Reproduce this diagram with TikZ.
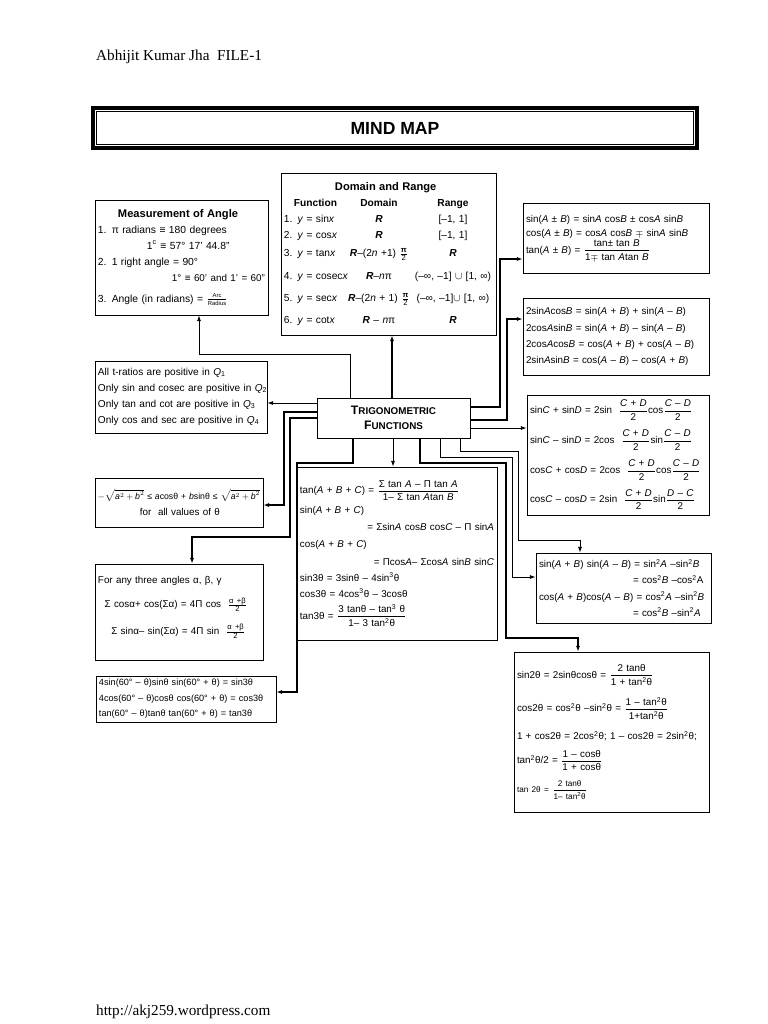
\documentclass[tikz,border=0pt]{standalone}
\usepackage{fontspec}
\setmainfont{Liberation Sans}
\newfontfamily\serifface{Liberation Serif}
\usetikzlibrary{arrows.meta}

\newcommand{\mv}[1]{\textit{#1}}
\newcommand{\fr}[2]{$\displaystyle\frac{\mbox{#1}}{\mbox{#2}}$}
\newcommand{\sfr}[2]{$\frac{\mbox{\fontsize{6.5}{7}\selectfont #1}}{\mbox{\fontsize{6.5}{7}\selectfont #2}}$}
\newcommand{\tfr}[2]{$\frac{\mbox{\fontsize{5}{6}\selectfont #1}}{\mbox{\fontsize{5}{6}\selectfont #2}}$}
\newcommand{\drow}[3]{\makebox[1.71cm][l]{#1}\makebox[2.28cm]{#2}\makebox[2.16cm]{#3}}
\newcommand{\bR}{\textbf{\textit{R}}}
\newcommand{\spr}[1]{\textsuperscript{#1}}

\begin{document}
\begin{tikzpicture}[x=0.03cm, y=-0.03cm]
	\tikzstyle{every node}=[font=\fontsize{8.4}{13.7}\selectfont]
	\tikzstyle{box}=[draw, line width=0.6pt, align=left, inner xsep=0.09cm, inner ysep=0.04cm]
	\tikzstyle{link}=[-{Latex[length=5pt,width=3.6pt]}, line width=0.8pt]
	\tikzstyle{heavy}=[link, line width=1.5pt]
	\fill [white] (0,0) rectangle (768,1024);
	\useasboundingbox (0,0) rectangle (768,1024);

	% header, footer and title
	\node [font=\serifface\fontsize{13}{15}\selectfont, anchor=west] (author) at (92,57) {Abhijit Kumar Jha\ \ FILE-1};
	\node [font=\serifface\fontsize{13}{15}\selectfont, anchor=west] (site) at (92,1012) {http://akj259.wordpress.com};
	\node [draw, line width=2.6pt, minimum width=18.12cm, minimum height=1.2cm, font=\fontsize{15}{18}\selectfont\bfseries] (title) at (395,128) {MIND MAP};
	\draw [line width=0.5pt] ([shift={(5,5)}]title.north west) rectangle ([shift={(-5,-5)}]title.south east);

	% centre
	\node [draw, line width=0.6pt, align=center, minimum width=4.59cm, minimum height=1.2cm, font=\fontsize{10.5}{13}\selectfont\bfseries] (trig) at (393.5,418) {T{\fontsize{8.4}{13}\selectfont RIGONOMETRIC}\\F{\fontsize{8.4}{13}\selectfont UNCTIONS}};

	% left column
	\node [box, text width=5.01cm, minimum height=3.45cm, font=\fontsize{8.8}{13.7}\selectfont] (meas) at (181.5,257.5) {\hspace*{0.6cm}{\fontsize{9.5}{12}\selectfont\bfseries Measurement of Angle}\\
		1. π radians ≡ 180 degrees\\
		\hspace*{1.47cm}1\spr{c} ≡ 57° 17’ 44.8”\\
		2. 1 right angle = 90°\\
		\hspace*{2.22cm}\mbox{\fontsize{8.4}{13.7}\selectfont 1° ≡ 60’ and 1’ = 60”}\\[4pt]
		3. Angle (in radians) = \tfr{Arc}{Radius}};
	\node [box, text width=4.98cm, minimum height=2.16cm, font=\fontsize{8.6}{13.7}\selectfont] (quad) at (181,397) {\mbox{All t-ratios are positive in \mv{Q}\textsubscript{1}}\\
		\mbox{Only sin and cosec are positive in \mv{Q}\textsubscript{2}}\\
		\mbox{Only tan and cot are positive in \mv{Q}\textsubscript{3}}\\
		\mbox{Only cos and sec are positive in \mv{Q}\textsubscript{4}}};
	\node [box, text width=4.86cm, minimum height=1.47cm] (bound) at (179,502.5) {\resizebox{4.86cm}{!}{$-\sqrt{\mbox{\mv{a}}^2+\mbox{\mv{b}}^2}$ ≤ \mv{a}cosθ + \mv{b}sinθ ≤ $\sqrt{\mbox{\mv{a}}^2+\mbox{\mv{b}}^2}$}\\
		\hspace*{1.26cm}for\ \ all values of θ};
	\node [box, text width=4.86cm, minimum height=2.88cm] (angles) at (179,612) {For any three angles α, β, γ\\[7pt]
		\hspace*{0.2cm}Σ cosα+ cos(Σα) = 4Π cos\ \ \sfr{α +β}{2}\\[9pt]
		\hspace*{0.4cm}Σ sinα– sin(Σα) = 4Π sin\ \ \sfr{α +β}{2}\rule[-0.4cm]{0pt}{0.1cm}};
	\node [box, text width=5.22cm, minimum height=1.38cm, font=\fontsize{7.8}{13.2}\selectfont] (sixty) at (186,699) {\mbox{4sin(60° – θ)sinθ sin(60° + θ) = sin3θ}\\
		\mbox{4cos(60° – θ)cosθ cos(60° + θ) = cos3θ}\\
		\mbox{tan(60° – θ)tanθ tan(60° + θ) = tan3θ}};

	% middle column
	\node [box, text width=6.27cm, minimum height=4.86cm, font=\fontsize{8.7}{13.7}\selectfont] (dom) at (388.5,254) {\hspace*{1.53cm}{\fontsize{9.5}{12}\selectfont\bfseries Domain and Range}\\
		\drow{\hspace*{0.3cm}\textbf{Function}}{\textbf{Domain}}{\textbf{Range}}\\
		\drow{1. \mv{y} = sin\mv{x}}{\bR}{[–1, 1]}\\
		\drow{2. \mv{y} = cos\mv{x}}{\bR}{[–1, 1]}\\[2pt]
		\drow{3. \mv{y} = tan\mv{x}}{\bR–(2\mv{n} +1)\ \sfr{\textbf{π}}{2}}{\bR}\\[6pt]
		\drow{4. \mv{y} = cosec\mv{x}}{\bR–\mv{n}π}{(–∞, –1] $\cup$ [1, ∞)}\\[5pt]
		\drow{5. \mv{y} = sec\mv{x}}{\bR–(2\mv{n} + 1) \sfr{\textbf{π}}{2}}{(–∞, –1]$\cup$ [1, ∞)}\\[5pt]
		\drow{6. \mv{y} = cot\mv{x}}{\bR\ – \mv{n}π}{\bR}};
	\node [box, text width=5.82cm, minimum height=5.19cm] (three) at (397,553.5) {tan(\mv{A} + \mv{B} + \mv{C}) = \fr{Σ tan \mv{A} – Π tan \mv{A}}{1– Σ tan \mv{A}tan \mv{B}}\\[3pt]
		sin(\mv{A} + \mv{B} + \mv{C})\\[1pt]
		\hspace*{\fill}= Σsin\mv{A} cos\mv{B} cos\mv{C} – Π sin\mv{A}\\[1pt]
		cos(\mv{A} + \mv{B} + \mv{C})\\[1pt]
		\hspace*{\fill}= Πcos\mv{A}– Σcos\mv{A} sin\mv{B} sin\mv{C}\\
		sin3θ = 3sinθ – 4sin\spr{3}θ\\
		cos3θ = 4cos\spr{3}θ – 3cosθ\\[5pt]
		tan3θ = \fr{3 tanθ – tan\spr{3} θ}{1– 3 tan\spr{2}θ}};

	% right column
	\node [box, text width=5.40cm, minimum height=2.1cm] (sab) at (616,238) {sin(\mv{A} ± \mv{B}) = sin\mv{A} cos\mv{B} ± cos\mv{A} sin\mv{B}\\[-1pt]
		cos(\mv{A} ± \mv{B}) = cos\mv{A} cos\mv{B} $\mp$ sin\mv{A} sin\mv{B}\\
		tan(\mv{A} ± \mv{B}) = \fr{tan± tan \mv{B}}{1$\mp$ tan \mv{A}tan \mv{B}}};
	\node [box, text width=5.40cm, minimum height=2.31cm] (prod) at (616,336.5) {2sin\mv{A}cos\mv{B} = sin(\mv{A} + \mv{B}) + sin(\mv{A} – \mv{B})\\
		2cos\mv{A}sin\mv{B} = sin(\mv{A} + \mv{B}) – sin(\mv{A} – \mv{B})\\
		2cos\mv{A}cos\mv{B} = cos(\mv{A} + \mv{B}) + cos(\mv{A} – \mv{B})\\
		2sin\mv{A}sin\mv{B} = cos(\mv{A} – \mv{B}) – cos(\mv{A} + \mv{B})};
	\node [box, text width=5.28cm, minimum height=3.6cm] (sumc) at (618,455) {sin\mv{C} + sin\mv{D} = 2sin\ \ \fr{\mv{C} + \mv{D}}{2}cos\fr{\mv{C} – \mv{D}}{2}\\[7pt]
		sin\mv{C} – sin\mv{D} = 2cos\ \ \fr{\mv{C} + \mv{D}}{2}sin\fr{\mv{C} – \mv{D}}{2}\\[7pt]
		cos\mv{C} + cos\mv{D} = 2cos\ \ \fr{\mv{C} + \mv{D}}{2}cos\fr{\mv{C} – \mv{D}}{2}\\[7pt]
		cos\mv{C} – cos\mv{D} = 2sin\ \ \fr{\mv{C} + \mv{D}}{2}sin\fr{\mv{D} – \mv{C}}{2}};
	\node [box, text width=5.07cm, minimum height=2.1cm] (sqd) at (623.5,588) {sin(\mv{A} + \mv{B}) sin(\mv{A} – \mv{B}) = sin\spr{2}\mv{A} –sin\spr{2}\mv{B}\\
		\hspace*{2.82cm}= cos\spr{2}\mv{B} –cos\spr{2}A\\
		cos(\mv{A} + \mv{B})cos(\mv{A} – \mv{B}) = cos\spr{2}\mv{A} –sin\spr{2}\mv{B}\\
		\hspace*{2.82cm}= cos\spr{2}\mv{B} –sin\spr{2}\mv{A}};
	\node [box, text width=5.67cm, minimum height=4.8cm] (dbl) at (611.5,732) {sin2θ = 2sinθcosθ = \fr{2 tanθ}{1 + tan\spr{2}θ}\\[9pt]
		cos2θ = cos\spr{2}θ –sin\spr{2}θ = \fr{1 – tan\spr{2}θ}{1+tan\spr{2}θ}\\[10pt]
		1 + cos2θ = 2cos\spr{2}θ; 1 – cos2θ = 2sin\spr{2}θ;\\[7pt]
		tan\spr{2}θ/2 = \fr{1 – cosθ}{1 + cosθ}\\[7pt]
		{\fontsize{7}{9}\selectfont tan 2θ = \fr{2 tanθ}{1– tan\spr{2}θ}}};

	% connectors
	\draw [heavy] (trig.north -| 392,0) -- (dom.south -| 392,0);
	\draw [link] (trig.north -| 350,0) -- (350,354) -- (199,354) -- (meas.south -| 199,0);
	\draw [link] (trig.west |- 0,403) -- (quad.east |- 0,403);
	\draw [heavy] (trig.west |- 0,412) -- (284,412) -- (284,505) -- (bound.east |- 0,505);
	\draw [heavy] (trig.west |- 0,418) -- (290,418) -- (290,537) -- (192,537) -- (angles.north -| 192,0);
	\draw [heavy] (trig.south -| 353,0) -- (353,463) -- (297,463) -- (297,692) -- (sixty.east |- 0,692);
	\draw [link] (trig.south -| 393,0) -- (three.north -| 393,0);
	\draw [heavy] (trig.east |- 0,407) -- (500,407) -- (500,259) -- (sab.west |- 0,259);
	\draw [heavy] (trig.east |- 0,420) -- (507,420) -- (507,319) -- (prod.west |- 0,319);
	\draw [link] (trig.east |- 0,428) -- (sumc.west |- 0,428);
	\draw [link] (trig.south -| 460,0) -- (460,451) -- (518,451) -- (518,540) -- (580,540) -- (sqd.north -| 580,0);
	\draw [link] (trig.south -| 440,0) -- (440,457) -- (512,457) -- (512,577) -- (sqd.west |- 0,577);
	\draw [heavy] (trig.south -| 420,0) -- (420,463) -- (506,463) -- (506,638) -- (578,638) -- (dbl.north -| 578,0);
\end{tikzpicture}
\end{document}
